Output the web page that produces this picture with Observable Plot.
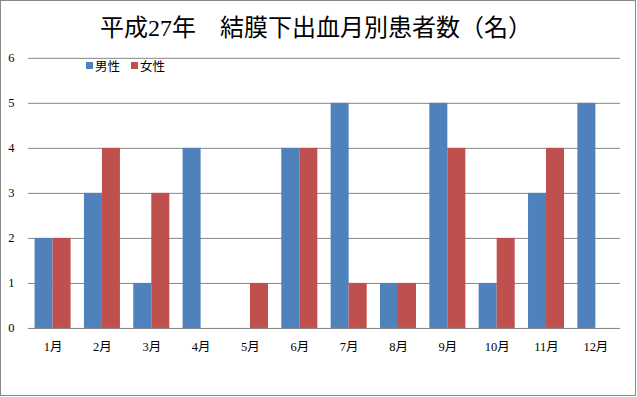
<!DOCTYPE html>
<html><head><meta charset="utf-8">
<script src="https://cdn.jsdelivr.net/npm/d3@7"></script>
<script src="https://cdn.jsdelivr.net/npm/@observablehq/plot@0.6"></script>
<style>
body{margin:0;background:#fff;}
#wrap{position:relative;width:636px;height:396px;box-sizing:border-box;border:1px solid #8a8a8a;background:#fff;overflow:hidden;}
#title{position:absolute;left:99px;top:7px;text-align:left;font-family:"Liberation Serif","Noto Sans CJK JP",serif;font-size:24px;color:#000;white-space:pre;}
#legend{position:absolute;left:85px;top:55px;font-family:"Noto Sans CJK JP",sans-serif;font-size:12.5px;color:#000;display:flex;gap:11px;}
#legend span{display:flex;align-items:center;}
#legend i{display:inline-block;width:7px;height:7px;margin-right:2px;}
#chart{position:absolute;left:-1px;top:-1px;}
</style></head>
<body>
<div id="wrap">
<div id="chart"></div>
<div id="title">平成27年　結膜下出血月別患者数（名）</div>
<div id="legend"></div>
</div>
<script>
const months = ["1月","2月","3月","4月","5月","6月","7月","8月","9月","10月","11月","12月"];
const male = [2,3,1,4,0,4,5,1,5,1,3,5];
const female = [2,4,3,0,1,4,1,1,4,2,4,0];
const seriesNames = ["男性","女性"];
const seriesColors = ["#4F81BD","#C0504D"];
const yTicks = [0,1,2,3,4,5,6];

const maleData = months.map((m,i)=>({month:m, value:male[i], series:seriesNames[0]}));
const femaleData = months.map((m,i)=>({month:m, value:female[i], series:seriesNames[1]}));

const chart = Plot.plot({
  width: 637, height: 397,
  marginTop: 58, marginBottom: 68, marginLeft: 28, marginRight: 15,
  style: {fontFamily: "'Liberation Serif','Noto Sans CJK JP',serif", fontSize: "12.5px", color: "#000", background: "transparent"},
  x: {domain: months, paddingInner: 0.27, paddingOuter: 0.135, round: false, label: null, tickSize: 0, tickPadding: 14},
  y: {domain: [0, 6], ticks: yTicks, label: null, tickSize: 0, tickPadding: 14, tickFormat: d3.format("d")},
  color: {domain: seriesNames, range: seriesColors},
  marks: [
    Plot.ruleY(yTicks, {stroke: "#868686", strokeWidth: 1}),
    Plot.barY(maleData, {x: "month", y: "value", fill: "series", insetRight: 18.07}),
    Plot.barY(femaleData, {x: "month", y: "value", fill: "series", insetLeft: 18.07}),
    Plot.ruleY([0], {stroke: "#868686", strokeWidth: 1})
  ]
});
document.getElementById("chart").appendChild(chart);

const legend = document.getElementById("legend");
seriesNames.forEach((n,i)=>{
  const s = document.createElement("span");
  s.innerHTML = `<i style="background:${seriesColors[i]}"></i>${n}`;
  legend.appendChild(s);
});
</script>
</body></html>
